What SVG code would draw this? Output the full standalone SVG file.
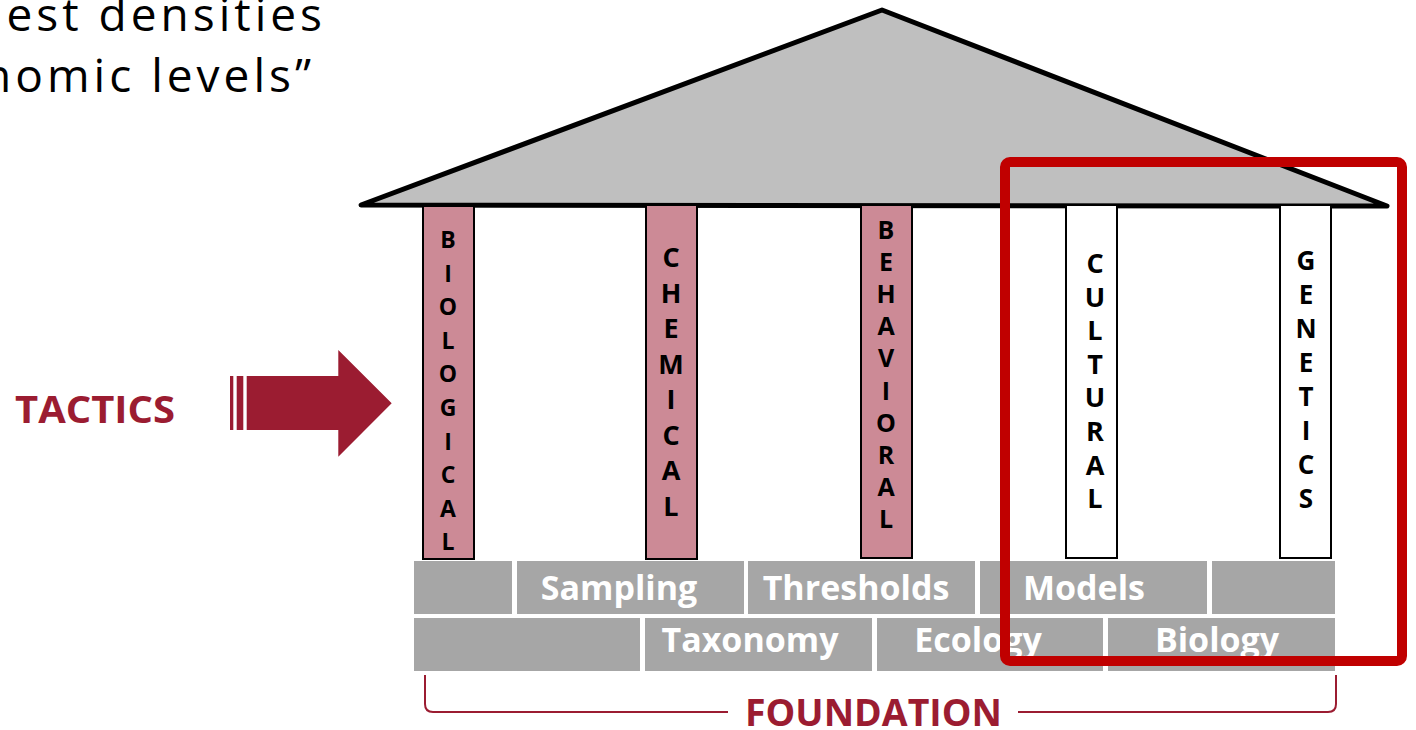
<svg xmlns="http://www.w3.org/2000/svg" width="1416" height="730" viewBox="0 0 1416 730">
<style>
.col{stroke:#000;stroke-width:2}
.pink{fill:#cc8a96}
.white{fill:#fff}
.lt{font-family:"Open Sans","DejaVu Sans",sans-serif;font-weight:bold;fill:#000;text-anchor:middle}
.blk{fill:#a6a6a6}
.ft{font-family:"Open Sans","DejaVu Sans",sans-serif;font-weight:bold;font-size:34px;fill:#fff;text-anchor:middle}
.maroon{fill:#9b1c31}
.top{font-family:"Open Sans","DejaVu Sans",sans-serif;font-size:46px;fill:#000;text-anchor:end;letter-spacing:4px}
</style>
<rect width="1416" height="730" fill="#fff"/>

<g id="heading">
<text class="top" x="326" y="31">est densities</text>
<text class="top" x="315" y="92">nomic levels”</text>
</g>

<g id="roof">
<polygon points="361,205 882,10 1387,206" fill="#bfbfbf" stroke="#000" stroke-width="5" stroke-linejoin="round"/>
</g>

<g id="col-biological">
<rect class="col pink" x="423" y="206" width="51" height="353"/>
<text class="lt" font-size="23"><tspan x="448" y="248">B</tspan><tspan x="448" dy="33.6">I</tspan><tspan x="448" dy="33.6">O</tspan><tspan x="448" dy="33.6">L</tspan><tspan x="448" dy="33.6">O</tspan><tspan x="448" dy="33.6">G</tspan><tspan x="448" dy="33.6">I</tspan><tspan x="448" dy="33.6">C</tspan><tspan x="448" dy="33.6">A</tspan><tspan x="448" dy="33.6">L</tspan></text>
</g>

<g id="col-chemical">
<rect class="col pink" x="646" y="205" width="51" height="354"/>
<text class="lt" font-size="27"><tspan x="671" y="267">C</tspan><tspan x="671" dy="35.5">H</tspan><tspan x="671" dy="35.5">E</tspan><tspan x="671" dy="35.5">M</tspan><tspan x="671" dy="35.5">I</tspan><tspan x="671" dy="35.5">C</tspan><tspan x="671" dy="35.5">A</tspan><tspan x="671" dy="35.5">L</tspan></text>
</g>

<g id="col-behavioral">
<rect class="col pink" x="861" y="205" width="51" height="353"/>
<text class="lt" font-size="25"><tspan x="886" y="238.5">B</tspan><tspan x="886" dy="32.2">E</tspan><tspan x="886" dy="32.2">H</tspan><tspan x="886" dy="32.2">A</tspan><tspan x="886" dy="32.2">V</tspan><tspan x="886" dy="32.2">I</tspan><tspan x="886" dy="32.2">O</tspan><tspan x="886" dy="32.2">R</tspan><tspan x="886" dy="32.2">A</tspan><tspan x="886" dy="32.2">L</tspan></text>
</g>

<g id="col-cultural">
<rect class="col white" x="1066" y="205" width="51" height="353"/>
<text class="lt" font-size="27"><tspan x="1095" y="273">C</tspan><tspan x="1095" dy="33.6">U</tspan><tspan x="1095" dy="33.6">L</tspan><tspan x="1095" dy="33.6">T</tspan><tspan x="1095" dy="33.6">U</tspan><tspan x="1095" dy="33.6">R</tspan><tspan x="1095" dy="33.6">A</tspan><tspan x="1095" dy="33.6">L</tspan></text>
</g>

<g id="col-genetics">
<rect class="col white" x="1280" y="205" width="51" height="353"/>
<text class="lt" font-size="26"><tspan x="1306" y="270">G</tspan><tspan x="1306" dy="34">E</tspan><tspan x="1306" dy="34">N</tspan><tspan x="1306" dy="34">E</tspan><tspan x="1306" dy="34">T</tspan><tspan x="1306" dy="34">I</tspan><tspan x="1306" dy="34">C</tspan><tspan x="1306" dy="34">S</tspan></text>
</g>

<g id="foundation-blocks">
<rect class="blk" x="414" y="561" width="98" height="53"/>
<rect class="blk" x="517" y="561" width="227" height="53"/>
<rect class="blk" x="748" y="561" width="227" height="53"/>
<rect class="blk" x="980" y="561" width="227" height="53"/>
<rect class="blk" x="1212" y="561" width="123" height="53"/>
<rect class="blk" x="414" y="618" width="226" height="53"/>
<rect class="blk" x="645" y="618" width="227" height="53"/>
<rect class="blk" x="877" y="618" width="226" height="53"/>
<rect class="blk" x="1108" y="618" width="227" height="53"/>
<text class="ft" x="619" y="600">Sampling</text>
<text class="ft" x="856" y="600">Thresholds</text>
<text class="ft" x="1084" y="600">Models</text>
<text class="ft" x="750" y="652">Taxonomy</text>
<text class="ft" x="978" y="652">Ecology</text>
<text class="ft" x="1217" y="652">Biology</text>
</g>

<g id="tactics">
<text x="15" y="423" font-family="'Open Sans','DejaVu Sans',sans-serif" font-weight="bold" font-size="37" fill="#9b1c31" textLength="160" lengthAdjust="spacingAndGlyphs">TACTICS</text>
</g>

<g id="connectors">
<g id="tactics-arrow" class="maroon">
<rect x="230" y="376" width="3.3" height="54"/>
<rect x="236.7" y="376" width="6.6" height="54"/>
<polygon points="246.7,376 338.3,376 338.3,350 391.7,403.3 338.3,456.7 338.3,430 246.7,430"/>
</g>
<path id="foundation-bracket-left" d="M425,675 L425,704 Q425,712 433,712 L728,712" fill="none" stroke="#9b1c31" stroke-width="2"/>
<path id="foundation-bracket-right" d="M1018,712 L1328,712 Q1336,712 1336,704 L1336,675" fill="none" stroke="#9b1c31" stroke-width="2"/>
</g>

<g id="foundation-label">
<text x="745" y="726" font-family="'Open Sans','DejaVu Sans',sans-serif" font-weight="bold" font-size="37" fill="#9b1c31" textLength="257" lengthAdjust="spacingAndGlyphs">FOUNDATION</text>
</g>

<g id="highlight">
<rect x="1005" y="162" width="397" height="499" rx="5" fill="none" stroke="#c00000" stroke-width="10"/>
</g>
</svg>
